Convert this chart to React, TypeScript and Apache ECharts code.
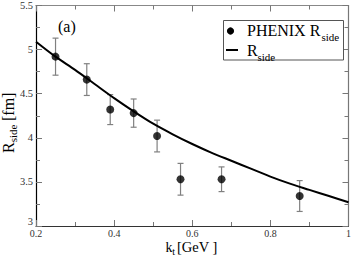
import React, { useEffect, useRef } from "react";
import * as echarts from "echarts";

const curveKt = [0.2, 0.25, 0.3, 0.35, 0.4, 0.45, 0.5, 0.55, 0.6, 0.65, 0.7, 0.75, 0.8, 0.85, 0.9, 0.95, 1.0];
const curveR = [5.09, 4.92, 4.77, 4.61, 4.45, 4.3, 4.16, 4.04, 3.93, 3.83, 3.74, 3.65, 3.56, 3.48, 3.41, 3.34, 3.27];

const phenixKt = [0.25, 0.33, 0.39, 0.45, 0.51, 0.57, 0.675, 0.875];
const phenixR = [4.92, 4.66, 4.32, 4.28, 4.02, 3.53, 3.53, 3.34];
const phenixErr = [0.21, 0.18, 0.17, 0.16, 0.18, 0.18, 0.14, 0.175];

const xTickLabels: Record<string, string> = { "0.2": "0.2", "0.4": "0.4", "0.6": "0.6", "0.8": "0.8", "1": "1" };
const yTickLabels: Record<string, string> = { "3": "3", "3.5": "3.5", "4": "4", "4.5": "4.5", "5": "5", "5.5": "5.5" };

const FAM = '"Liberation Serif", "Times New Roman", serif';

export default function App() {
  const ref = useRef<HTMLDivElement>(null);
  useEffect(() => {
    if (!ref.current) return;
    const chart = echarts.init(ref.current, undefined, { renderer: "svg" });
    const fmtX = (v: number) => xTickLabels[String(+v.toFixed(2))] ?? "";
    const fmtY = (v: number) => yTickLabels[String(+v.toFixed(2))] ?? "";
    const axisBase = (color: string) => ({
      axisLine: { show: true, lineStyle: { color, width: 1.2 } },
      axisTick: { show: true, inside: true, length: 6, lineStyle: { color: "#777", width: 1 } },
      minorTick: { show: true, splitNumber: 2, length: 4, lineStyle: { color: "#777", width: 1 } },
      splitLine: { show: false },
      minorSplitLine: { show: false },
    });
    const f = (px: number) => `${px}px ${FAM}`;
    chart.setOption({
      animation: false,
      backgroundColor: "#fff",
      grid: { left: 36, right: 3, top: 5, bottom: 30, containLabel: false },
      xAxis: [
        {
          type: "value", position: "bottom", min: 0.2, max: 1, interval: 0.2,
          ...axisBase("#333"),
          axisLabel: { fontFamily: FAM, fontSize: 10, color: "#333", margin: 2, formatter: fmtX },
        },
        {
          type: "value", position: "top", min: 0.2, max: 1, interval: 0.2,
          ...axisBase("#888"),
          axisLabel: { show: false },
        },
      ],
      yAxis: [
        {
          type: "value", position: "left", min: 3, max: 5.5, interval: 0.5,
          ...axisBase("#000"),
          axisLabel: {
            fontFamily: FAM, fontSize: 10.5, color: "#333", margin: 3,
            formatter: (v: number) => (Math.abs(v - 3) < 1e-9 ? "{lo|" + fmtY(v) + "}" : fmtY(v)),
            rich: { lo: { fontFamily: FAM, fontSize: 10.5, color: "#333", padding: [0, 0, 9, 0] } },
          },
        },
        {
          type: "value", position: "right", min: 3, max: 5.5, interval: 0.5,
          ...axisBase("#777"),
          axisLabel: { show: false },
        },
      ],
      series: [
        {
          type: "line",
          name: "R_side",
          data: curveKt.map((k, i) => [k, curveR[i]]),
          showSymbol: false,
          smooth: 0.3,
          lineStyle: { color: "#000", width: 2 },
          z: 2,
        },
        {
          type: "custom",
          name: "err",
          data: phenixKt.map((k, i) => [k, phenixR[i], phenixErr[i]]),
          encode: { x: 0, y: 1 },
          z: 1,
          renderItem: (params: any, api: any) => {
            const x = api.value(0), y = api.value(1), e = api.value(2);
            const top = api.coord([x, y + e]);
            const bot = api.coord([x, y - e]);
            const hw = 3;
            const st = { stroke: "#808080", lineWidth: 1.2 };
            return {
              type: "group",
              children: [
                { type: "line", shape: { x1: top[0], y1: top[1], x2: bot[0], y2: bot[1] }, style: st },
                { type: "line", shape: { x1: top[0] - hw, y1: top[1], x2: top[0] + hw, y2: top[1] }, style: st },
                { type: "line", shape: { x1: bot[0] - hw, y1: bot[1], x2: bot[0] + hw, y2: bot[1] }, style: st },
              ],
            };
          },
        },
        {
          type: "scatter",
          name: "PHENIX R_side",
          data: phenixKt.map((k, i) => [k, phenixR[i]]),
          symbol: "circle",
          symbolSize: 8,
          itemStyle: { color: "#000" },
          z: 3,
        },
      ],
      graphic: [
        { type: "text", left: 58, top: 18, style: { text: "(a)", font: f(16), fill: "#000" } },
        // legend
        { type: "rect", shape: { x: 223.5, y: 20.5, width: 120, height: 39.5 }, style: { fill: "#fff", stroke: "#555", lineWidth: 1 }, z: 10 },
        { type: "circle", shape: { cx: 230.5, cy: 31, r: 3.6 }, style: { fill: "#000" }, z: 11 },
        { type: "line", shape: { x1: 226, y1: 50, x2: 238, y2: 50 }, style: { stroke: "#000", lineWidth: 2 }, z: 11 },
        { type: "text", x: 247, y: 30.5, style: { text: "PHENIX R", font: f(16), fill: "#000", verticalAlign: "middle", align: "left" }, z: 11 },
        { type: "text", x: 321.5, y: 36.5, style: { text: "side", font: f(11), fill: "#000", verticalAlign: "middle", align: "left" }, z: 11 },
        { type: "text", x: 247, y: 50.3, style: { text: "R", font: f(16), fill: "#000", verticalAlign: "middle", align: "left" }, z: 11 },
        { type: "text", x: 257.5, y: 56.5, style: { text: "side", font: f(11), fill: "#000", verticalAlign: "middle", align: "left" }, z: 11 },
        // x title
        { type: "text", x: 165.5, y: 247, style: { text: "k", font: f(14), fill: "#000", verticalAlign: "middle", align: "left" } },
        { type: "text", x: 172.3, y: 251, style: { text: "t", font: f(10), fill: "#000", verticalAlign: "middle", align: "left" } },
        { type: "text", x: 177, y: 247, style: { text: "[GeV ]", font: f(14.5), fill: "#000", verticalAlign: "middle", align: "left" } },
        // y title
        {
          type: "group", x: 8, y: 153, rotation: Math.PI / 2,
          children: [
            { type: "text", x: 0, y: 0, style: { text: "R", font: f(16), fill: "#000", verticalAlign: "middle", align: "left" } },
            { type: "text", x: 10.7, y: 5, style: { text: "side", font: f(11), fill: "#000", verticalAlign: "middle", align: "left" } },
            { type: "text", x: 32, y: 0, style: { text: "[fm]", font: f(16), fill: "#000", verticalAlign: "middle", align: "left" } },
          ],
        },
      ],
    });
    return () => chart.dispose();
  }, []);
  return <div ref={ref} style={{ position: "absolute", left: 0, top: 0, width: 354, height: 256 }} />;
}
